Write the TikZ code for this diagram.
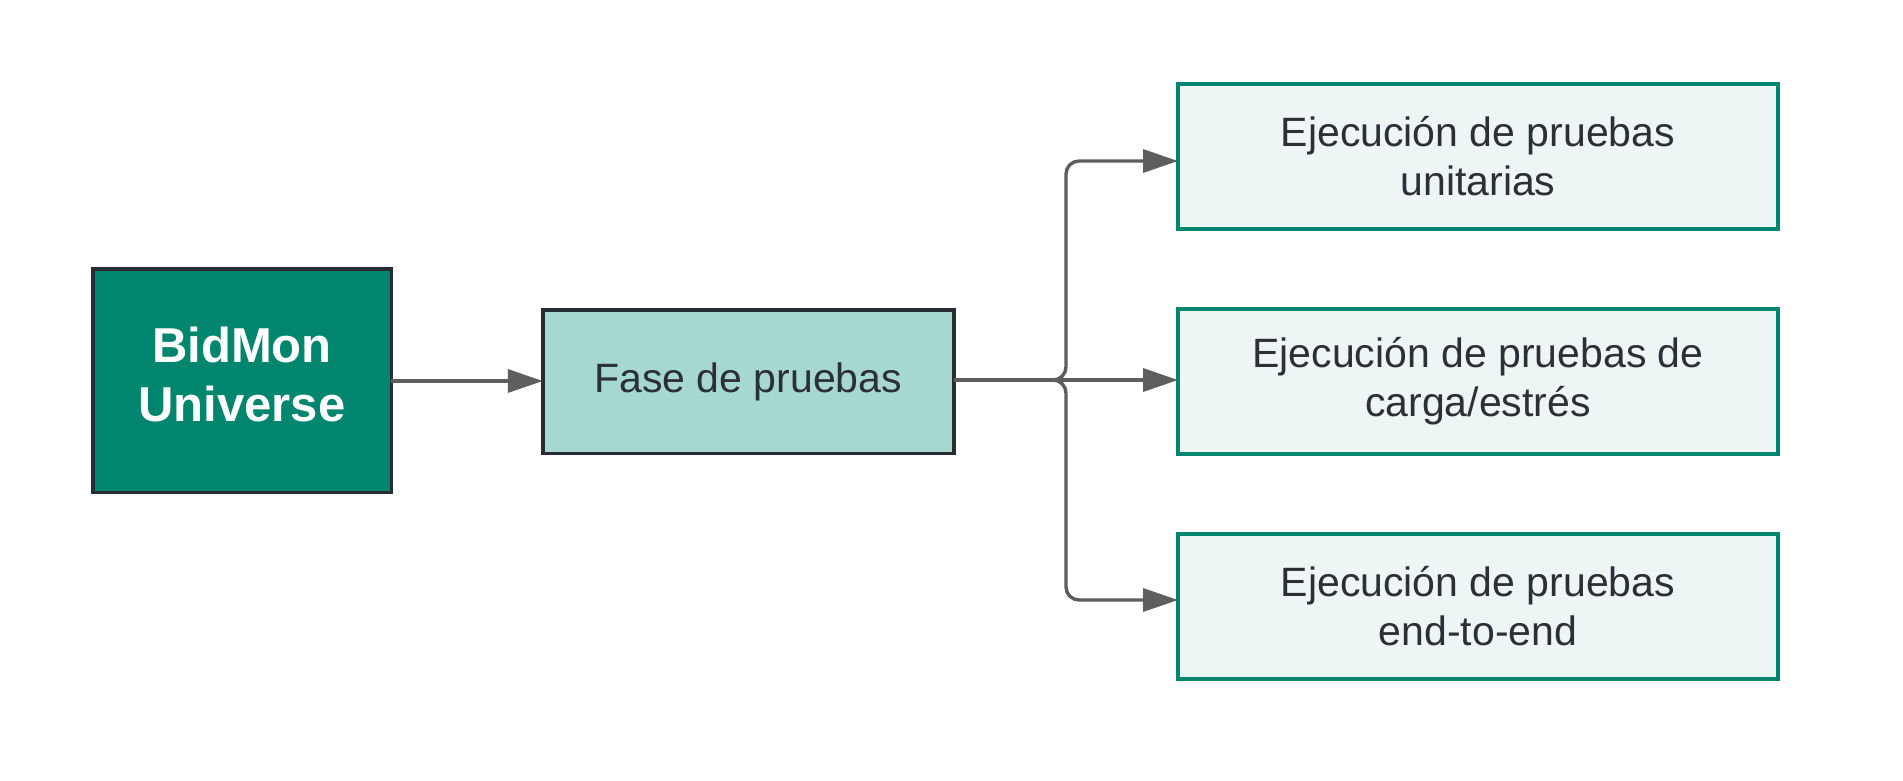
\documentclass[tikz,border=0pt]{standalone}
\usepackage{fontspec}
\setmainfont{Liberation Sans}
\usetikzlibrary{arrows.meta}
\definecolor{tealdark}{HTML}{00856F}
\definecolor{teallight}{HTML}{A6D8D0}
\definecolor{tealpale}{HTML}{EDF6F4}
\definecolor{edgedark}{HTML}{282C33}
\definecolor{linegray}{HTML}{5E5E5E}
\definecolor{textdark}{HTML}{2B2F36}
\tikzset{
  mainbox/.style={draw=edgedark, line width=3.5pt, fill=tealdark, text=white,
    minimum width=298.5pt, minimum height=223.5pt, inner sep=0pt, outer sep=0pt,
    align=center, font=\fontsize{49}{59}\selectfont\bfseries},
  phasebox/.style={draw=edgedark, line width=3.5pt, fill=teallight, text=textdark,
    minimum width=411pt, minimum height=143.5pt, inner sep=0pt, outer sep=0pt,
    align=center, font=\fontsize{41}{49}\selectfont},
  testbox/.style={draw=tealdark, line width=4pt, fill=tealpale, text=textdark,
    minimum width=600pt, minimum height=144.5pt, inner sep=0pt, outer sep=0pt,
    align=center, font=\fontsize{41}{49}\selectfont},
  conn/.style={draw=linegray, line width=3.4pt,
    -{Triangle[length=35pt,width=23pt]}, rounded corners=13pt}
}
\begin{document}
\begin{tikzpicture}[x=1pt,y=-1pt]
\useasboundingbox[fill=white] (0,0) rectangle (1903,780);
\node[mainbox] (bid) at (242,380.5) {\raisebox{13pt}{\begin{tabular}{@{}c@{}}BidMon\\Universe\end{tabular}}};
\node[phasebox] (fase) at (748.3,381.5) {Fase de pruebas};
\node[testbox] (t1) at (1478,156.5) {Ejecución de pruebas\\unitarias};
\node[testbox] (t2) at (1478,381.5) {Ejecución de pruebas de\\carga/estrés};
\node[testbox] (t3) at (1478,606.5) {Ejecución de pruebas\\end-to-end};
\coordinate (split) at (1066,380);
\draw[conn] (bid.east |- 0,381) -- (fase.west |- 0,381);
\draw[conn] (fase.east |- split) -- (split) -- (1066,161) -- (t1.west |- 0,161);
\draw[conn] (fase.east |- split) -- (t2.west |- split);
\draw[conn] (fase.east |- split) -- (split) -- (1066,600) -- (t3.west |- 0,600);
\end{tikzpicture}
\end{document}
